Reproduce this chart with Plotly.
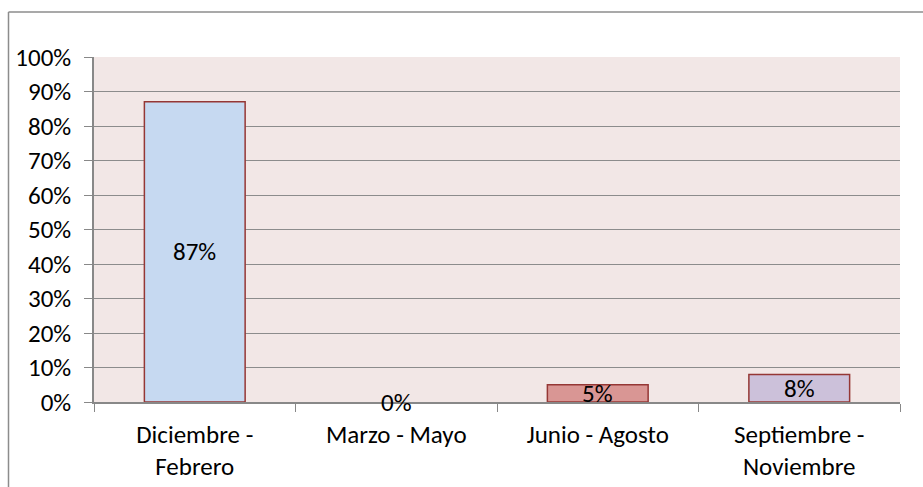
import plotly.graph_objects as go

categories = ["Diciembre -<br>Febrero", "Marzo - Mayo", "Junio - Agosto", "Septiembre -<br>Noviembre"]
values = [0.87, 0.0, 0.05, 0.08]
bar_colors = ["#C6D9F1", "#D99694", "#D99694", "#CCC1DA"]
label_texts = ["87%", "0%", "5%", "8%"]
y_ticks = [0.0, 0.1, 0.2, 0.3, 0.4, 0.5, 0.6, 0.7, 0.8, 0.9, 1.0]

FONT = "Carlito, Lato, Open Sans, sans-serif"
FS = 25
W, H = 923, 487
L, R, T, B = 94, 23, 57, 85

fig = go.Figure()
fig.add_trace(go.Bar(
    x=categories, y=values, width=0.5,
    marker=dict(color=bar_colors,
                line=dict(color="#953735", width=[1.5 if v > 0 else 0 for v in values])),
    showlegend=False, hoverinfo="skip",
))

for c, v, t in zip(categories, values, label_texts):
    fig.add_annotation(x=c, y=v / 2, text=t, showarrow=False, xref="x", yref="y",
                       font=dict(family=FONT, size=FS, color="#000000"),
                       yanchor="middle", xanchor="center")

pw = W - L - R
ph = H - T - B


def px_x(p):
    return (p - L) / pw


def px_y(p):
    return (H - B - p) / ph


# outer chart border (left and top visible)
fig.add_shape(type="line", xref="paper", yref="paper",
              x0=px_x(8.5), x1=px_x(8.5), y0=px_y(H), y1=px_y(12),
              line=dict(color="#8C8C8C", width=1.5))
fig.add_shape(type="line", xref="paper", yref="paper",
              x0=px_x(8.5), x1=px_x(W), y0=px_y(12), y1=px_y(12),
              line=dict(color="#8C8C8C", width=1.5))

fig.update_layout(
    width=W, height=H,
    margin=dict(l=L, r=R, t=T, b=B, pad=0, autoexpand=False),
    paper_bgcolor="#FFFFFF",
    plot_bgcolor="#F2E7E6",
    font=dict(family=FONT, size=FS, color="#000000"),
    bargap=0.5,
)
fig.update_xaxes(
    tickson="boundaries", ticks="outside", ticklen=8, tickcolor="#888888",
    showline=True, linecolor="#888888", linewidth=1.5,
    showgrid=False, tickfont=dict(family=FONT, size=FS),
    ticklabelstandoff=9, automargin=False,
)
fig.update_yaxes(
    range=[0, 1], tickvals=y_ticks, tickformat=".0%",
    ticks="outside", ticklen=8, tickcolor="#888888",
    showline=True, linecolor="#888888", linewidth=1.5,
    showgrid=True, gridcolor="#8C8C8C", gridwidth=1.2,
    zeroline=False, tickfont=dict(family=FONT, size=FS),
    ticklabelstandoff=8, automargin=False,
)

fig.write_html("out.html", config={"displayModeBar": False},
               post_script="document.body.style.margin='0';document.body.style.overflow='hidden';")
